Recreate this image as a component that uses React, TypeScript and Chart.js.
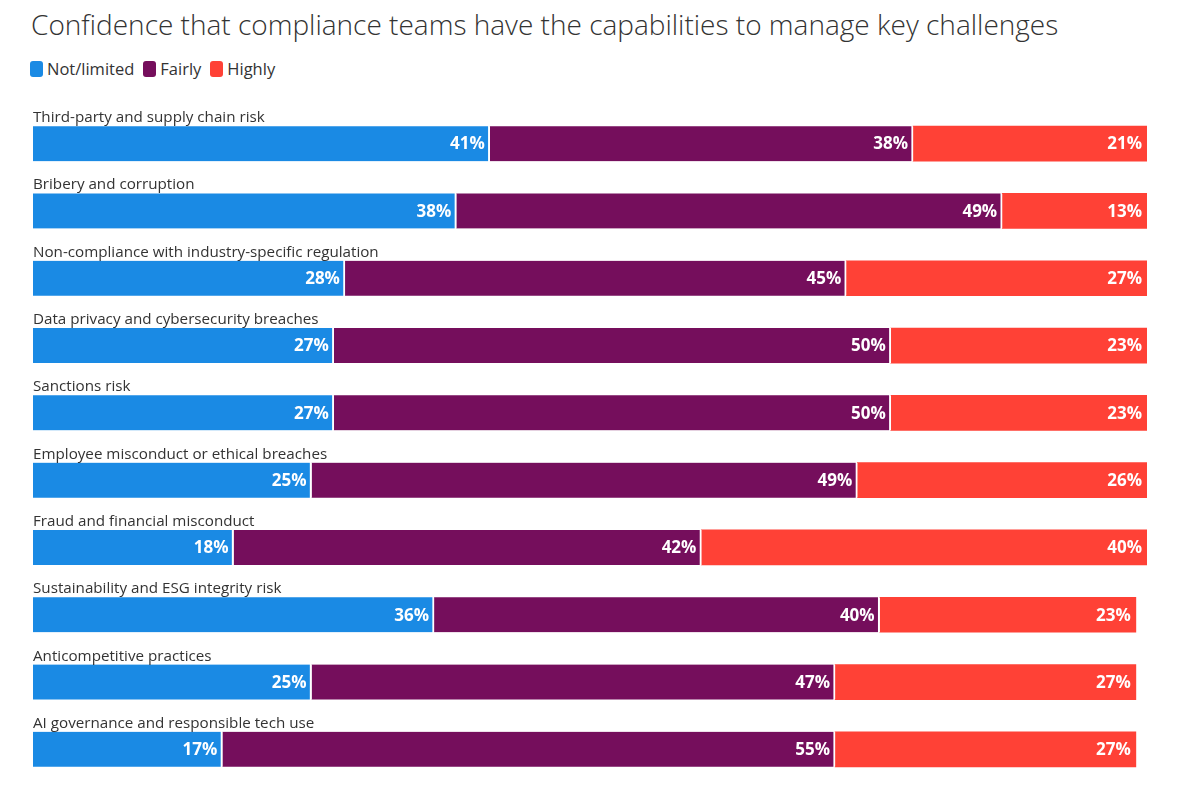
import { useEffect, useRef } from 'react';
import { Chart, registerables } from 'chart.js';

Chart.register(...registerables);

const categories = [
  'Third-party and supply chain risk',
  'Bribery and corruption',
  'Non-compliance with industry-specific regulation',
  'Data privacy and cybersecurity breaches',
  'Sanctions risk',
  'Employee misconduct or ethical breaches',
  'Fraud and financial misconduct',
  'Sustainability and ESG integrity risk',
  'Anticompetitive practices',
  'AI governance and responsible tech use',
];

const notLimited = [41, 38, 28, 27, 27, 25, 18, 36, 25, 17];
const fairly = [38, 49, 45, 50, 50, 49, 42, 40, 47, 55];
const highly = [21, 13, 27, 23, 23, 26, 40, 23, 27, 27];

const seriesNames = ['Not/limited', 'Fairly', 'Highly'];
const seriesColors = ['#1a8ae4', '#750e5c', '#ff4136'];

const FONT = '"Open Sans", sans-serif';

export default function App() {
  const chartRef = useRef<HTMLCanvasElement>(null);
  const chartInstance = useRef<Chart | null>(null);

  useEffect(() => {
    if (!chartRef.current) return;
    if (chartInstance.current) {
      chartInstance.current.destroy();
    }

    // category label above each bar + value labels inside segments
    const labelsPlugin = {
      id: 'barLabels',
      afterDatasetsDraw(chart: any) {
        const ctx = chart.ctx;
        ctx.save();
        const meta0 = chart.getDatasetMeta(0);
        ctx.font = `15.2px ${FONT}`;
        ctx.fillStyle = '#333333';
        ctx.textAlign = 'left';
        ctx.textBaseline = 'alphabetic';
        meta0.data.forEach((bar: any, i: number) => {
          ctx.fillText(categories[i], chart.chartArea.left, bar.y - bar.height / 2 - 4);
        });
        ctx.font = `bold 17px ${FONT}`;
        ctx.fillStyle = '#ffffff';
        ctx.textAlign = 'right';
        ctx.textBaseline = 'middle';
        chart.data.datasets.forEach((ds: any, di: number) => {
          const meta = chart.getDatasetMeta(di);
          meta.data.forEach((bar: any, i: number) => {
            ctx.fillText(ds.data[i] + '%', bar.x - 5, bar.y + 1);
          });
        });
        ctx.restore();
      },
    };

    chartInstance.current = new Chart(chartRef.current, {
      type: 'bar',
      data: {
        labels: categories,
        datasets: [notLimited, fairly, highly].map((d, i) => ({
          label: seriesNames[i],
          data: d,
          backgroundColor: seriesColors[i],
          borderColor: '#ffffff',
          borderWidth: { top: 0, bottom: 0, left: 0, right: i < 2 ? 2 : 0 },
          borderSkipped: false,
          barThickness: 35,
        })),
      },
      options: {
        indexAxis: 'y',
        animation: false,
        responsive: true,
        maintainAspectRatio: false,
        layout: { padding: { top: 12, bottom: 15, left: 25, right: 28 } },
        scales: {
          x: { stacked: true, display: false, min: 0, max: 100 },
          y: { stacked: true, display: false },
        },
        plugins: {
          legend: { display: false },
          tooltip: { enabled: false },
        },
      },
      plugins: [labelsPlugin],
    });

    return () => {
      if (chartInstance.current) {
        chartInstance.current.destroy();
        chartInstance.current = null;
      }
    };
  }, []);

  return (
    <div style={{ position: 'relative', width: 1167, height: 794, fontFamily: FONT, color: '#333333' }}>
      <div style={{ position: 'absolute', left: 23, top: -2, fontSize: 28, fontWeight: 300, whiteSpace: 'nowrap', lineHeight: '36px' }}>
        Confidence that compliance teams have the capabilities to manage key challenges
      </div>
      <div style={{ position: 'absolute', left: 22, top: 51, display: 'flex', alignItems: 'center', fontSize: 16.5, lineHeight: '20px' }}>
        {seriesNames.map((n, i) => (
          <span key={n} style={{ display: 'flex', alignItems: 'center', marginRight: 9 }}>
            <span style={{ width: 13, height: 16, borderRadius: 3, background: seriesColors[i], marginRight: 4, display: 'inline-block' }} />
            {n}
          </span>
        ))}
      </div>
      <div style={{ position: 'absolute', left: 0, top: 90, width: 1167, height: 700 }}>
        <canvas ref={chartRef} />
      </div>
    </div>
  );
}
